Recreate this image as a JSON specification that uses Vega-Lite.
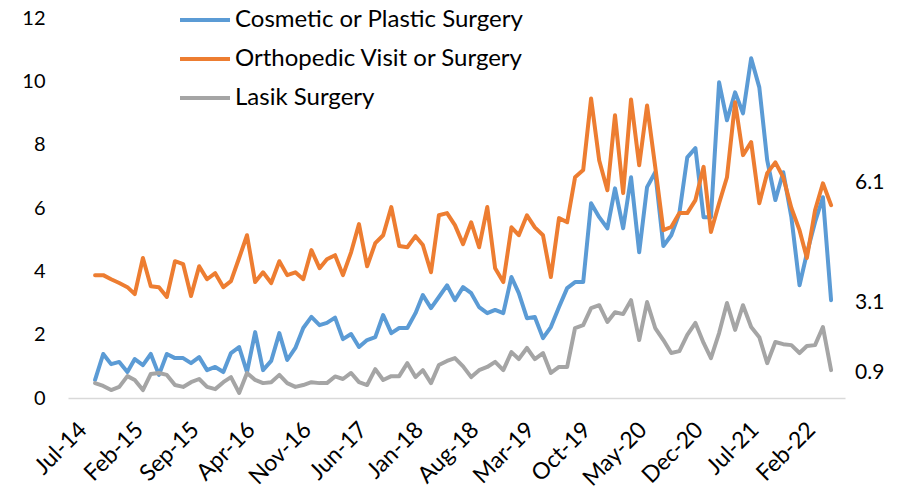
{
  "$schema": "https://vega.github.io/schema/vega-lite/v6.json",
  "width": 777,
  "height": 380,
  "autosize": {"type": "none"},
  "padding": {"left": 68, "top": 18, "right": 64, "bottom": 95},
  "background": "white",
  "config": {
    "font": "Lato",
    "view": {"stroke": null},
    "axis": {"labelColor": "#000000", "labelFont": "Lato"},
    "legend": {"labelFont": "Lato"}
  },
  "data": {
    "values": [
      {"date":"2014-10-01","c":0.57,"o":3.88,"l":0.47},
      {"date":"2014-11-01","c":1.39,"o":3.88,"l":0.38},
      {"date":"2014-12-01","c":1.07,"o":3.75,"l":0.25},
      {"date":"2015-01-01","c":1.14,"o":3.63,"l":0.35},
      {"date":"2015-02-01","c":0.82,"o":3.5,"l":0.69},
      {"date":"2015-03-01","c":1.23,"o":3.28,"l":0.57},
      {"date":"2015-04-01","c":1.04,"o":4.42,"l":0.25},
      {"date":"2015-05-01","c":1.39,"o":3.53,"l":0.76},
      {"date":"2015-06-01","c":0.73,"o":3.5,"l":0.79},
      {"date":"2015-07-01","c":1.39,"o":3.19,"l":0.73},
      {"date":"2015-08-01","c":1.26,"o":4.32,"l":0.41},
      {"date":"2015-09-01","c":1.26,"o":4.23,"l":0.35},
      {"date":"2015-10-01","c":1.1,"o":3.22,"l":0.5},
      {"date":"2015-11-01","c":1.29,"o":4.16,"l":0.6},
      {"date":"2015-12-01","c":0.88,"o":3.75,"l":0.35},
      {"date":"2016-01-01","c":0.98,"o":3.94,"l":0.28},
      {"date":"2016-02-01","c":0.82,"o":3.5,"l":0.5},
      {"date":"2016-03-01","c":1.42,"o":3.69,"l":0.66},
      {"date":"2016-04-01","c":1.61,"o":4.42,"l":0.16},
      {"date":"2016-05-01","c":0.82,"o":5.14,"l":0.79},
      {"date":"2016-06-01","c":2.08,"o":3.66,"l":0.57},
      {"date":"2016-07-01","c":0.88,"o":3.97,"l":0.47},
      {"date":"2016-08-01","c":1.17,"o":3.63,"l":0.5},
      {"date":"2016-09-01","c":2.05,"o":4.32,"l":0.73},
      {"date":"2016-10-01","c":1.2,"o":3.88,"l":0.47},
      {"date":"2016-11-01","c":1.58,"o":3.97,"l":0.35},
      {"date":"2016-12-01","c":2.21,"o":3.75,"l":0.41},
      {"date":"2017-01-01","c":2.56,"o":4.67,"l":0.5},
      {"date":"2017-02-01","c":2.3,"o":4.1,"l":0.47},
      {"date":"2017-03-01","c":2.37,"o":4.38,"l":0.47},
      {"date":"2017-04-01","c":2.54,"o":4.51,"l":0.68},
      {"date":"2017-05-01","c":1.86,"o":3.88,"l":0.6},
      {"date":"2017-06-01","c":2.02,"o":4.6,"l":0.79},
      {"date":"2017-07-01","c":1.61,"o":5.49,"l":0.5},
      {"date":"2017-08-01","c":1.83,"o":4.16,"l":0.41},
      {"date":"2017-09-01","c":1.92,"o":4.89,"l":0.91},
      {"date":"2017-10-01","c":2.62,"o":5.14,"l":0.57},
      {"date":"2017-11-01","c":2.05,"o":6.03,"l":0.69},
      {"date":"2017-12-01","c":2.21,"o":4.8,"l":0.69},
      {"date":"2018-01-01","c":2.21,"o":4.76,"l":1.1},
      {"date":"2018-02-01","c":2.68,"o":5.11,"l":0.66},
      {"date":"2018-03-01","c":3.25,"o":4.83,"l":0.88},
      {"date":"2018-04-01","c":2.84,"o":3.97,"l":0.47},
      {"date":"2018-05-01","c":3.19,"o":5.77,"l":1.04},
      {"date":"2018-06-01","c":3.56,"o":5.84,"l":1.17},
      {"date":"2018-07-01","c":3.09,"o":5.46,"l":1.26},
      {"date":"2018-08-01","c":3.5,"o":4.86,"l":1.0},
      {"date":"2018-09-01","c":3.31,"o":5.55,"l":0.66},
      {"date":"2018-10-01","c":2.87,"o":4.76,"l":0.88},
      {"date":"2018-11-01","c":2.68,"o":6.03,"l":0.98},
      {"date":"2018-12-01","c":2.78,"o":4.1,"l":1.14},
      {"date":"2019-01-01","c":2.68,"o":3.66,"l":0.88},
      {"date":"2019-02-01","c":3.82,"o":5.39,"l":1.45},
      {"date":"2019-03-01","c":3.31,"o":5.14,"l":1.23},
      {"date":"2019-04-01","c":2.52,"o":5.77,"l":1.58},
      {"date":"2019-05-01","c":2.56,"o":5.39,"l":1.23},
      {"date":"2019-06-01","c":1.89,"o":5.14,"l":1.42},
      {"date":"2019-07-01","c":2.24,"o":3.82,"l":0.79},
      {"date":"2019-08-01","c":2.87,"o":5.68,"l":0.98},
      {"date":"2019-09-01","c":3.47,"o":5.55,"l":0.98},
      {"date":"2019-10-01","c":3.66,"o":6.97,"l":2.21},
      {"date":"2019-11-01","c":3.66,"o":7.2,"l":2.3},
      {"date":"2019-12-01","c":6.15,"o":9.46,"l":2.84},
      {"date":"2020-01-01","c":5.71,"o":7.5,"l":2.93},
      {"date":"2020-02-01","c":5.36,"o":6.56,"l":2.4},
      {"date":"2020-03-01","c":6.62,"o":8.93,"l":2.71},
      {"date":"2020-04-01","c":5.36,"o":6.47,"l":2.65},
      {"date":"2020-05-01","c":6.97,"o":9.43,"l":3.09},
      {"date":"2020-06-01","c":4.6,"o":7.35,"l":1.83},
      {"date":"2020-07-01","c":6.66,"o":9.24,"l":3.03},
      {"date":"2020-08-01","c":7.13,"o":7.3,"l":2.21},
      {"date":"2020-09-01","c":4.8,"o":5.3,"l":1.83},
      {"date":"2020-10-01","c":5.14,"o":5.4,"l":1.42},
      {"date":"2020-11-01","c":5.84,"o":5.84,"l":1.48},
      {"date":"2020-12-01","c":7.6,"o":5.84,"l":1.99},
      {"date":"2021-01-01","c":7.89,"o":6.25,"l":2.37},
      {"date":"2021-02-01","c":5.71,"o":7.3,"l":1.74},
      {"date":"2021-03-01","c":5.71,"o":5.24,"l":1.26},
      {"date":"2021-04-01","c":9.97,"o":6.15,"l":2.05},
      {"date":"2021-05-01","c":8.77,"o":6.97,"l":3.0},
      {"date":"2021-06-01","c":9.65,"o":9.34,"l":2.15},
      {"date":"2021-07-01","c":8.99,"o":7.67,"l":2.93},
      {"date":"2021-08-01","c":10.73,"o":8.08,"l":2.24},
      {"date":"2021-09-01","c":9.81,"o":6.15,"l":1.92},
      {"date":"2021-10-01","c":7.51,"o":7.1,"l":1.1},
      {"date":"2021-11-01","c":6.25,"o":7.44,"l":1.77},
      {"date":"2021-12-01","c":7.13,"o":6.97,"l":1.7},
      {"date":"2022-01-01","c":5.71,"o":6.0,"l":1.67},
      {"date":"2022-02-01","c":3.56,"o":5.3,"l":1.42},
      {"date":"2022-03-01","c":4.57,"o":4.42,"l":1.64},
      {"date":"2022-04-01","c":5.55,"o":5.93,"l":1.67},
      {"date":"2022-05-01","c":6.34,"o":6.78,"l":2.24},
      {"date":"2022-06-01","c":3.09,"o":6.09,"l":0.88}
    ],
    "format": {"parse": {"date": "utc:'%Y-%m-%d'"}}
  },
  "transform": [
    {"fold": ["c", "o", "l"], "as": ["series", "value"]}
  ],
  "encoding": {
    "x": {
      "field": "date",
      "type": "temporal",
      "scale": {
        "type": "utc",
        "domain": [
          {"year": 2014, "month": 6, "date": 20, "utc": true},
          {"year": 2022, "month": 7, "date": 24, "utc": true}
        ]
      },
      "axis": {
        "title": null,
        "format": "%b-%y",
        "values": [
          {"year": 2014, "month": 7, "date": 1, "utc": true},
          {"year": 2015, "month": 2, "date": 1, "utc": true},
          {"year": 2015, "month": 9, "date": 1, "utc": true},
          {"year": 2016, "month": 4, "date": 1, "utc": true},
          {"year": 2016, "month": 11, "date": 1, "utc": true},
          {"year": 2017, "month": 6, "date": 1, "utc": true},
          {"year": 2018, "month": 1, "date": 1, "utc": true},
          {"year": 2018, "month": 8, "date": 1, "utc": true},
          {"year": 2019, "month": 3, "date": 1, "utc": true},
          {"year": 2019, "month": 10, "date": 1, "utc": true},
          {"year": 2020, "month": 5, "date": 1, "utc": true},
          {"year": 2020, "month": 12, "date": 1, "utc": true},
          {"year": 2021, "month": 7, "date": 1, "utc": true},
          {"year": 2022, "month": 2, "date": 1, "utc": true}
        ],
        "labelAngle": -45,
        "labelFontSize": 23,
        "labelPadding": 20,
        "labelOffset": 4,
        "ticks": false,
        "grid": false,
        "domainColor": "#D9D9D9",
        "domainWidth": 1.5,
        "labelFlush": false,
        "labelOverlap": false
      }
    },
    "y": {
      "field": "value",
      "type": "quantitative",
      "scale": {"domain": [0, 12], "nice": false, "zero": true},
      "axis": {
        "title": null,
        "values": [0, 2, 4, 6, 8, 10, 12],
        "grid": false,
        "domain": false,
        "ticks": false,
        "labelFontSize": 20,
        "labelPadding": 23
      }
    }
  },
  "layer": [
    {
      "mark": {"type": "line", "strokeWidth": 4, "strokeJoin": "round", "strokeCap": "round"},
      "encoding": {
        "color": {
          "field": "series",
          "type": "nominal",
          "scale": {"domain": ["c", "o", "l"], "range": ["#5B9BD5", "#ED7D31", "#A5A5A5"]},
          "legend": {
            "title": null,
            "orient": "none",
            "legendX": 110,
            "legendY": -25,
            "symbolType": "stroke",
            "symbolSize": 2500,
            "symbolStrokeWidth": 4,
            "labelFontSize": 24,
            "labelColor": "#000000",
            "labelLimit": 500,
            "labelOffset": 3,
            "rowPadding": 0,
            "labelExpr": "datum.label == 'c' ? 'Cosmetic or Plastic Surgery' : datum.label == 'o' ? 'Orthopedic Visit or Surgery' : 'Lasik Surgery'"
          }
        }
      }
    },
    {
      "transform": [
        {"filter": "utcyear(datum.date) == 2022 && utcmonth(datum.date) == 5 && datum.series == 'o'"}
      ],
      "mark": {"type": "text", "align": "left", "baseline": "middle", "dx": 24, "dy": -22, "fontSize": 21, "color": "#000000"},
      "encoding": {"text": {"field": "value", "type": "quantitative", "format": ".1f"}}
    },
    {
      "transform": [
        {"filter": "utcyear(datum.date) == 2022 && utcmonth(datum.date) == 5 && datum.series != 'o'"}
      ],
      "mark": {"type": "text", "align": "left", "baseline": "middle", "dx": 24, "dy": 3, "fontSize": 21, "color": "#000000"},
      "encoding": {"text": {"field": "value", "type": "quantitative", "format": ".1f"}}
    }
  ]
}
